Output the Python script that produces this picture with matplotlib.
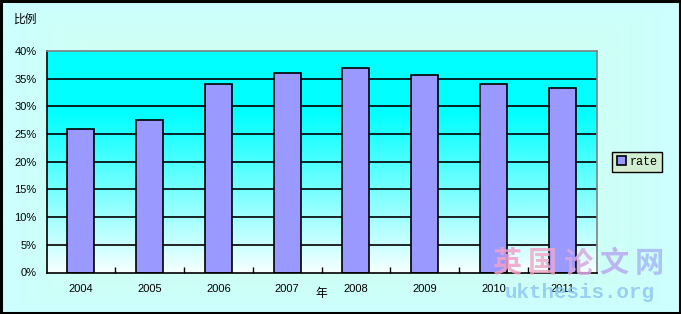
import numpy as np
import matplotlib
matplotlib.use("Agg")
import matplotlib.pyplot as plt
from matplotlib.patches import Rectangle

plt.rcParams['font.family'] = ['DejaVu Sans', 'Noto Sans CJK SC']

years = ["2004", "2005", "2006", "2007", "2008", "2009", "2010", "2011"]
rate = [26.0, 27.5, 34.0, 36.0, 37.0, 35.6, 34.0, 33.4]
yticks = [0, 5, 10, 15, 20, 25, 30, 35, 40]
ytick_labels = [f"{v}%" for v in yticks]

W, H = 681, 314
fig = plt.figure(figsize=(W / 100, H / 100), dpi=100)

# figure background gradient (rectangular: green centre, cyan edges)
bg = fig.add_axes([0, 0, 1, 1], zorder=-10)
bg.set_axis_off()
gx = np.linspace(-1, 1, 300)
gy = np.linspace(-1, 1, 150)
X, Y = np.meshgrid(gx, gy)
t = np.clip(np.maximum(np.abs(X), np.abs(Y)), 0, 1)
c_center = np.array([0.85, 1.0, 0.85])
c_edge = np.array([0.80, 1.0, 1.0])
img = c_center[None, None, :] * (1 - t[..., None]) + c_edge[None, None, :] * t[..., None]
bg.imshow(img, extent=[0, 1, 0, 1], aspect='auto', origin='lower')
bg.set_xlim(0, 1)
bg.set_ylim(0, 1)
bg.add_patch(Rectangle((0.0015, 0.003), 0.997, 0.994, fill=False, edgecolor='black', linewidth=2.2,
                       transform=bg.transAxes))

# plot area
left, right, top, bottom = 46.5, 596.5, 51, 272.5
ax = fig.add_axes([left / W, 1 - bottom / H, (right - left) / W, (bottom - top) / H])
n = len(years)
x = np.arange(n)
ax.set_xlim(-0.5, n - 0.5)
ax.set_ylim(0, 40)

# plot area gradient (cyan top -> white bottom)
gv = np.linspace(0, 1, 200)  # 0 bottom, 1 top
tt = np.clip((gv) / 0.72, 0, 1)
top_c = np.array([0.0, 1.0, 1.0])
bot_c = np.array([0.96, 1.0, 1.0])
pimg = bot_c[None, :] * (1 - tt[:, None]) + top_c[None, :] * tt[:, None]
pimg = np.repeat(pimg[:, None, :], 2, axis=1)
ax.imshow(pimg, extent=[-0.5, n - 0.5, 0, 40], aspect='auto', origin='lower', zorder=0)

for v in yticks[1:-1]:
    ax.axhline(v, color='black', linewidth=1.2, zorder=1)

ax.bar(x, rate, width=0.39, color='#9999FF', edgecolor='black', linewidth=1.2, zorder=2, label='rate')

ax.spines['top'].set_color('#808080')
ax.spines['right'].set_color('#808080')
ax.spines['left'].set_color('black')
ax.spines['bottom'].set_color('black')
for s in ax.spines.values():
    s.set_linewidth(1.2)
    s.set_zorder(3)

ax.set_yticks(yticks)
ax.set_yticklabels(ytick_labels, fontsize=8)
ax.set_xticks(x)
ax.set_xticklabels(years, fontsize=8, family=['Liberation Sans'])
ax.set_xticks(np.arange(0.5, n - 1, 1), minor=True)
ax.tick_params(axis='x', which='major', length=0, pad=8)
ax.tick_params(axis='x', which='minor', direction='in', length=4, width=1)
ax.tick_params(axis='y', which='major', length=0, pad=7)
for lbl in ax.get_yticklabels():
    lbl.set_family(['Liberation Sans'])

# axis titles
fig.text(14 / W, 1 - 19 / H, "比例", fontsize=8.5, family=['Noto Sans CJK SC'], va='center', ha='left')
fig.text(321 / W, 1 - 294 / H, "年", fontsize=8.5, family=['Noto Sans CJK SC'], va='center', ha='center')

# legend
leg = ax.legend(loc='center left', bbox_to_anchor=(1.029, 0.5), frameon=True, fancybox=False,
                prop={'family': 'Liberation Mono', 'size': 8.5},
                handlelength=0.8, handleheight=0.8, handletextpad=0.3, borderpad=0.35,
                borderaxespad=0)
leg.get_frame().set_facecolor('#D2EED2')
leg.get_frame().set_edgecolor('black')
leg.get_frame().set_linewidth(1.0)
leg.get_frame().set_alpha(1)

# watermark
wm_chars = ["英", "国", "论", "文", "网"]
wm_colors = ["#F2A0C8", "#F0A8C8", "#D8A8E0", "#B8A8F0", "#A8B8F4"]
for i, (ch, col) in enumerate(zip(wm_chars, wm_colors)):
    fig.text((507 + i * 35.5) / W, 1 - 263 / H, ch, fontsize=21, fontweight='bold',
             family=['Noto Sans CJK SC'], color=col, alpha=0.85, ha='center', va='center')
fig.text(580 / W, 1 - 293 / H, "ukthesis.org", fontsize=15, fontweight='bold',
         family=['Liberation Mono'], color='#90C8F0', alpha=0.85, ha='center', va='center')

fig.savefig("out.png", dpi=100)
